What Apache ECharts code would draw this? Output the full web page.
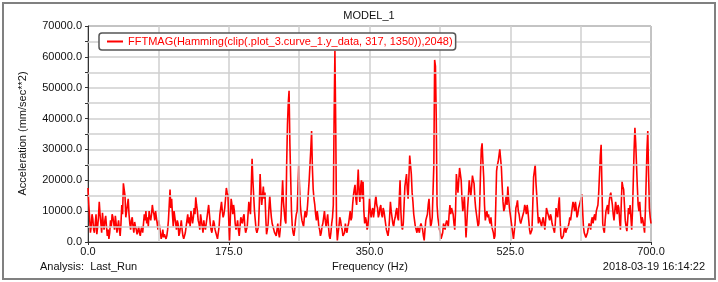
<!DOCTYPE html>
<html lang="en">
  <head>
    <meta charset="UTF-8" />
    <title>MODEL_1</title>
    <script src="https://cdn.jsdelivr.net/npm/echarts@6/dist/echarts.min.js"></script>
    <style>
      html, body { margin: 0; padding: 0; background: #fff; }
    </style>
  </head>

  <body>
    <div id="main" style="width: 718px; height: 282px"></div>

    <script>
      // FFT bins, 1 Hz apart, from 0 to 700 Hz
      var freqStep = 1;
      // magnitude in thousands of mm/sec**2 (10 bins per row)
      var magK = [
        17.5, 12, 8, 3, 5, 9, 7.5, 4, 3, 6,
        9, 2.5, 5, 8, 13, 9, 6, 3, 9.5, 6,
        4, 7, 8.5, 5, 2, 4, 1, 3, 7, 5,
        9, 8, 6, 4, 8.5, 6, 3, 5, 7, 4,
        2, 6, 12, 9, 19, 17, 15, 8, 10, 12,
        14, 9, 6, 4, 7, 8, 5, 3, 6.5, 5,
        4, 2.5, 3.5, 5, 3, 2, 4, 5, 3, 6,
        9, 7, 10, 6, 8, 5, 10, 8, 7, 9,
        12, 10, 9, 7, 10, 8, 6, 4, 7, 5,
        3, 1, 2, 4, 1.5, 2.5, 3, 1, 2, 4,
        // 100 Hz
        7, 12, 17, 11, 14, 9, 5, 10, 8, 6,
        4, 7, 6, 2, 3, 5, 7, 4, 2, 1,
        0.5, 3, 5, 7, 9, 6, 8, 5, 10, 8,
        6, 8, 11, 9, 14.5, 12, 10, 7, 6, 4,
        9, 7, 5, 3, 7, 5, 4, 6, 8, 10,
        12, 9, 6, 4, 3, 5, 7, 6, 4, 3,
        2, 1, 0.5, 5, 9, 11, 13, 10, 8, 9,
        11, 14, 17.5, 16, 15, 7, 0.5, 8, 14, 12,
        9, 12, 10, 6, 4, 5, 7, 4, 2, 5,
        8, 7, 6, 8, 9, 5, 3, 4, 5, 9,
        // 200 Hz
        13, 11, 9, 18, 27, 20, 15, 10, 7, 4,
        3, 4, 5, 12, 22, 16, 12, 15, 18, 14,
        16, 8, 2.5, 4, 6, 11, 15, 11, 8, 6,
        5, 4, 3, 2.5, 2, 4, 6, 3, 1.5, 4,
        8, 14, 20, 13, 10, 7, 6, 25, 38, 45,
        49, 32, 21, 10, 5, 3, 2, 4, 7, 9,
        10, 17, 25, 18, 12, 9, 7, 6, 5, 8,
        10, 8, 9, 12, 16, 20, 25, 30, 36, 24,
        17, 14, 12, 9, 7, 10, 8, 5, 4, 2,
        3, 5, 6, 8, 10, 7, 5, 7, 9, 5,
        // 300 Hz
        2, 1, 3, 6, 8, 12, 40, 62, 38, 6,
        0.5, 3, 5, 8, 7, 5, 4, 2, 1.5, 3,
        6, 4, 3, 5, 6, 8, 10, 7, 8, 12,
        15, 17, 18.5, 14, 12, 18, 23.5, 16, 13, 18,
        20, 14, 19.5, 10, 6, 8, 7, 4, 5, 9,
        14, 10, 8, 10, 11, 8, 10, 13, 15, 12,
        11, 8, 9, 11, 12, 9, 8, 11, 10, 8,
        6, 4, 3, 2, 4, 8, 13, 10, 8, 6,
        5, 7, 8, 10, 11, 8, 7, 14, 20, 10,
        5, 4, 6, 12, 18, 20, 22, 17, 14, 21,
        // 400 Hz
        28, 25, 22, 16, 13, 9, 7, 5, 4, 3,
        5, 4, 3, 5, 6, 5, 4, 2, 0.5, 4,
        7, 8, 9, 12, 14, 9, 5, 6, 8, 8,
        25, 59, 57, 40, 12, 8, 6, 4, 3, 1,
        0.5, 3, 6, 5, 4, 6, 7, 6, 5, 9,
        12, 9, 11, 10, 9, 6, 4, 10, 22, 19,
        16, 20, 24, 22, 20, 14, 10, 12, 15, 8,
        1.5, 6, 11, 15, 20, 17, 15, 18, 21.5, 20,
        19, 14, 11, 9, 7, 5, 6, 12, 22, 30,
        32, 26, 21, 12, 7, 9, 10, 8, 9, 7,
        // 500 Hz
        6, 8, 5, 4, 3, 1, 2, 12, 23, 25,
        26, 28, 30, 27, 24, 18, 13, 10, 11, 13,
        15, 12, 18, 14, 11, 9, 7, 5, 3, 1,
        0.5, 6, 11, 12, 13.5, 10, 9, 7, 6, 7,
        8, 9, 10, 12, 11, 9, 12, 10, 7, 4,
        2.5, 3, 4, 12, 21, 23, 25, 19, 15, 10,
        6, 8, 7, 6, 5, 7, 8, 6, 4, 7,
        11, 10, 9, 8, 7, 9, 8, 6, 5, 4,
        3, 6, 11, 9, 8, 12, 14.5, 7, 2, 1,
        0.5, 2, 4, 5, 3, 4, 3.5, 5, 6, 8,
        // 600 Hz
        7, 9, 11, 13, 12, 10, 13, 11, 8, 9,
        11, 12, 13, 14, 15.5, 10, 5, 3, 2.5, 1.5,
        1, 3, 3, 6, 5, 4, 7, 8, 6, 8,
        9, 7, 10, 11, 12, 16, 22, 28, 31.5, 18,
        6, 4, 3, 7, 10, 11, 12, 9, 13, 15,
        16, 14, 12, 9, 7, 10, 13, 11, 9, 12,
        11, 7, 4, 12, 19.5, 18, 17, 12, 7, 5,
        3.5, 7, 11, 9, 12, 8, 4, 10, 20, 30,
        37, 32, 25, 18, 12, 10, 13, 9, 6, 8,
        7, 5, 3, 10, 20, 30, 36, 22, 11, 8,
        // 700 Hz
        6
      ];

      // in-between grid lines (between the labelled ones)
      var minorGridX = [87.5, 262.5, 437.5, 612.5];
      var minorGridY = [5000, 15000, 25000, 35000, 45000, 55000, 65000];

      var seriesName = "FFTMAG(Hamming(clip(.plot_3.curve_1.y_data, 317, 1350)),2048)";
      var titleText = "MODEL_1";
      var yName = "Acceleration (mm/sec**2)";
      var xName = "Frequency (Hz)";
      var runText = "Analysis:  Last_Run";
      var stampText = "2018-03-19 16:14:22";

      var points = magK.map(function (v, i) {
        return [i * freqStep, v * 1000];
      });

      var font = "Liberation Sans, Arial, sans-serif";
      var gridColor = "#cfcfcf";
      var fmt1 = function (v) {
        return v.toFixed(1);
      };

      var gridMarks = minorGridX
        .map(function (v) {
          return { xAxis: v };
        })
        .concat(
          minorGridY.map(function (v) {
            return { yAxis: v };
          })
        );

      var myChart = echarts.init(document.getElementById("main"));

      var option = {
        animation: false,
        backgroundColor: "#fff",
        textStyle: { fontFamily: font },
        grid: {
          left: 88,
          right: 67,
          top: 26,
          bottom: 40,
          show: true,
          borderColor: "#444",
          borderWidth: 1,
        },
        legend: {
          left: 99,
          top: 33,
          padding: [3, 3, 3, 8],
          backgroundColor: "#fff",
          borderColor: "#555",
          borderWidth: 1.5,
          borderRadius: 3,
          itemWidth: 16,
          itemHeight: 2,
          icon: "rect",
          textStyle: { color: "#ff0000", fontSize: 11, fontFamily: font },
          data: [seriesName],
          z: 10,
        },
        xAxis: {
          type: "value",
          min: 0,
          max: 700,
          interval: 175,
          axisLine: { lineStyle: { color: "#333", width: 1 } },
          axisTick: { show: true, length: 3, lineStyle: { color: "#333" } },
          splitLine: { lineStyle: { color: gridColor, width: 1.5 } },
          axisLabel: { color: "#111", fontSize: 11, margin: 4, formatter: fmt1 },
        },
        yAxis: {
          type: "value",
          min: 0,
          max: 70000,
          interval: 10000,
          axisLine: { show: true, lineStyle: { color: "#333", width: 1 } },
          axisTick: { show: true, length: 3, lineStyle: { color: "#333" } },
          minorTick: { show: true, splitNumber: 2, length: 3, lineStyle: { color: "#333" } },
          splitLine: { lineStyle: { color: gridColor, width: 1.5 } },
          axisLabel: { color: "#111", fontSize: 11, margin: 6, formatter: fmt1 },
        },
        series: [
          {
            name: seriesName,
            type: "line",
            data: points,
            showSymbol: false,
            symbol: "none",
            lineStyle: { color: "#ff0000", width: 1.6 },
            itemStyle: { color: "#ff0000" },
            z: 3,
          },
          {
            // carrier for the in-between grid lines
            type: "line",
            data: [],
            z: 1,
            markLine: {
              silent: true,
              animation: false,
              symbol: ["none", "none"],
              label: { show: false },
              lineStyle: { color: gridColor, width: 1.5, type: "solid" },
              data: gridMarks,
            },
          },
        ],
        graphic: [
          {
            type: "rect",
            shape: { x: 3, y: 3, width: 712, height: 276 },
            style: { fill: null, stroke: "#808080", lineWidth: 2 },
            silent: true,
          },
          {
            type: "text",
            x: 369,
            y: 16,
            style: {
              text: titleText,
              fill: "#111",
              font: "11px " + font,
              textAlign: "center",
              textVerticalAlign: "middle",
            },
          },
          {
            type: "text",
            x: 22.5,
            y: 133.5,
            rotation: Math.PI / 2,
            style: {
              text: yName,
              fill: "#111",
              font: "11px " + font,
              textAlign: "center",
              textVerticalAlign: "middle",
            },
          },
          {
            type: "text",
            x: 370,
            y: 267,
            style: {
              text: xName,
              fill: "#111",
              font: "11px " + font,
              textAlign: "center",
              textVerticalAlign: "middle",
            },
          },
          {
            type: "text",
            x: 40,
            y: 267,
            style: {
              text: runText,
              fill: "#111",
              font: "11px " + font,
              textAlign: "left",
              textVerticalAlign: "middle",
            },
          },
          {
            type: "text",
            x: 705,
            y: 267,
            style: {
              text: stampText,
              fill: "#111",
              font: "11px " + font,
              textAlign: "right",
              textVerticalAlign: "middle",
            },
          },
        ],
      };
      myChart.setOption(option);
    </script>
  </body>
</html>
